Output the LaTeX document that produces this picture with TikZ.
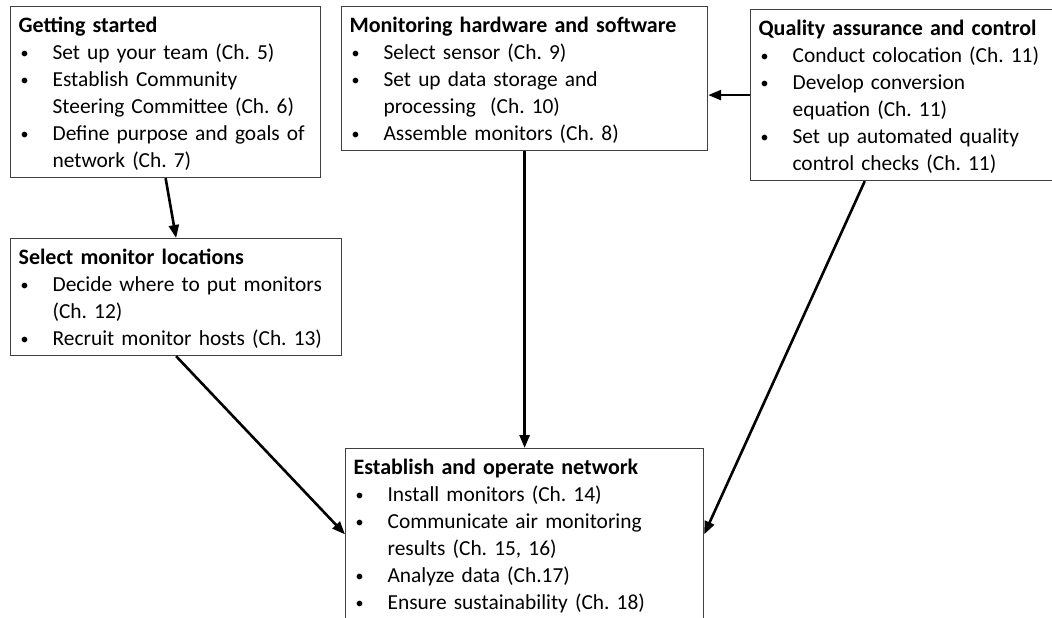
\documentclass[tikz,border=0pt]{standalone}
\usepackage{fontspec}
\setmainfont{Carlito}
\usetikzlibrary{arrows.meta}
\newcommand{\bul}[1]{\par\raggedright\hangindent=34pt\hangafter=1\noindent\hbox to 34pt{\hspace{2pt}\raisebox{1.5pt}{\fontsize{16pt}{16pt}\selectfont\textbullet}\hfil}#1\par}
\newcommand{\ttl}[1]{\rule{0pt}{19pt}{\fontsize{22pt}{27pt}\selectfont\textbf{#1}}}

\begin{document}
\begin{tikzpicture}[x=1pt,y=-1pt,
    box/.style={draw=black!75,line width=1.2pt,anchor=north west,
      inner xsep=8pt,inner ysep=7pt,font=\fontsize{21.4pt}{27pt}\selectfont,
      execute at begin node={\frenchspacing}},
    link/.style={-{Triangle[length=13pt,width=10pt]},line width=2.6pt}]
  \useasboundingbox (0,0) rectangle (1052,618);
  \node[box,text width=294pt] (start) at (10,6) {\ttl{Getting started}
    \bul{Set up your team (Ch. 5)}
    \bul{Establish Community\newline Steering Committee (Ch. 6)}
    \bul{Define purpose and goals of\newline network (Ch. 7)}};
  \node[box,text width=350pt] (hw) at (341,6) {\ttl{Monitoring hardware and software}
    \bul{Select sensor (Ch. 9)}
    \bul{Set up data storage and\newline processing\ \ (Ch. 10)}
    \bul{Assemble monitors (Ch. 8)}};
  \node[box,text width=289pt] (qa) at (750,9) {\ttl{Quality assurance and control}
    \bul{Conduct colocation (Ch. 11)}
    \bul{Develop conversion\newline equation (Ch. 11)}
    \bul{Set up automated quality\newline control checks (Ch. 11)}};
  \node[box,text width=315pt] (loc) at (10,238) {\ttl{Select monitor locations}
    \bul{Decide where to put monitors\newline (Ch. 12)}
    \bul{Recruit monitor hosts (Ch. 13)}};
  \node[box,text width=342pt] (net) at (345,448) {\ttl{Establish and operate network}
    \bul{Install monitors (Ch. 14)}
    \bul{Communicate air monitoring\newline results (Ch. 15, 16)}
    \bul{Analyze data (Ch.17)}
    \bul{Ensure sustainability (Ch. 18)}};
  \begin{scope}[link]
    \draw (start.south) to (loc.north);
    \draw (qa.west) to (qa.west -| hw.east);
    \draw (hw.south) to (net.north);
    \draw (loc.south) to (net.west);
    \draw (qa.246) to (net.east);
  \end{scope}
\end{tikzpicture}
\end{document}
